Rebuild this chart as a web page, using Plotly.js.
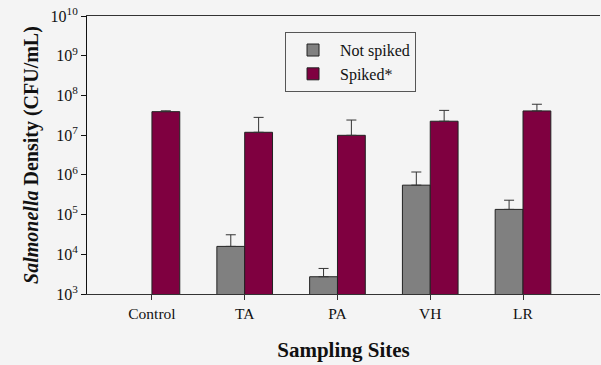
<!DOCTYPE html>
<html><head><meta charset="utf-8">
<script src="https://cdn.plot.ly/plotly-3.0.1.min.js"></script>
<style>html,body{margin:0;padding:0;background:#f4f4f4;}</style>
</head><body><div id="chart" style="width:601px;height:365px;"></div>
<script>
const sites = ["Control", "TA", "PA", "VH", "LR"];
const notSpiked = [null, 1.58e4, 2.72e3, 5.5e5, 1.35e5];
const notSpikedUpper = [null, 3.1e4, 4.4e3, 1.18e6, 2.3e5];
const spiked = [3.9e7, 1.18e7, 9.9e6, 2.24e7, 4.07e7];
const spikedUpper = [4.1e7, 2.8e7, 2.4e7, 4.2e7, 6.0e7];
const yTickVals = [1e3, 1e4, 1e5, 1e6, 1e7, 1e8, 1e9, 1e10];
const yTickText = ["10<sup>3</sup>", "10<sup>4</sup>", "10<sup>5</sup>", "10<sup>6</sup>", "10<sup>7</sup>", "10<sup>8</sup>", "10<sup>9</sup>", "10<sup>10</sup>"];

const diff = (u, v) => u.map((x, i) => (x == null || v[i] == null) ? null : x - v[i]);
const zeros = sites.map(() => 0);
const font = "Liberation Serif, Times New Roman, serif";

const traces = [
  {type: "bar", name: "Not spiked", x: sites, y: notSpiked,
   marker: {color: "#808080", line: {color: "#222", width: 1}},
   error_y: {type: "data", symmetric: false, array: diff(notSpikedUpper, notSpiked), arrayminus: zeros, color: "#333", thickness: 1, width: 5}},
  {type: "bar", name: "Spiked*", x: sites, y: spiked,
   marker: {color: "#7f0040", line: {color: "#222", width: 1}},
   error_y: {type: "data", symmetric: false, array: diff(spikedUpper, spiked), arrayminus: zeros, color: "#333", thickness: 1, width: 5}}
];

const layout = {
  width: 601, height: 365,
  margin: {l: 87, r: 1, t: 16, b: 71},
  paper_bgcolor: "#f4f4f4", plot_bgcolor: "#f4f4f4",
  barmode: "group", bargap: 0.4, bargroupgap: 0,
  font: {family: font, color: "#111", size: 15},
  showlegend: true,
  legend: {x: 0.386, y: 0.942, xanchor: "left", yanchor: "top", itemwidth: 44,
    bgcolor: "#f4f4f4", bordercolor: "#555", borderwidth: 1,
    font: {family: font, size: 16, color: "#111"}, tracegroupgap: 2},
  xaxis: {type: "category", range: [-0.70, 4.83], showline: true, linecolor: "#333", linewidth: 1,
    mirror: true, ticks: "outside", ticklen: 5, tickcolor: "#333", showgrid: false, zeroline: false,
    tickfont: {family: font, size: 15.5},
    title: {text: "<b>Sampling Sites</b>", font: {family: font, size: 21}, standoff: 21}},
  yaxis: {type: "log", range: [3, 10], tickvals: yTickVals, ticktext: yTickText,
    showline: true, linecolor: "#111", linewidth: 1, ticks: "outside", ticklen: 5, tickcolor: "#111",
    showgrid: false, zeroline: false, tickfont: {family: font, size: 16},
    title: {text: "<b><i>Salmonella</i> Density (CFU/mL)</b>", font: {family: font, size: 20}, standoff: 6}}
};

Plotly.newPlot("chart", traces, layout, {displayModeBar: false, staticPlot: true});
</script></body></html>
